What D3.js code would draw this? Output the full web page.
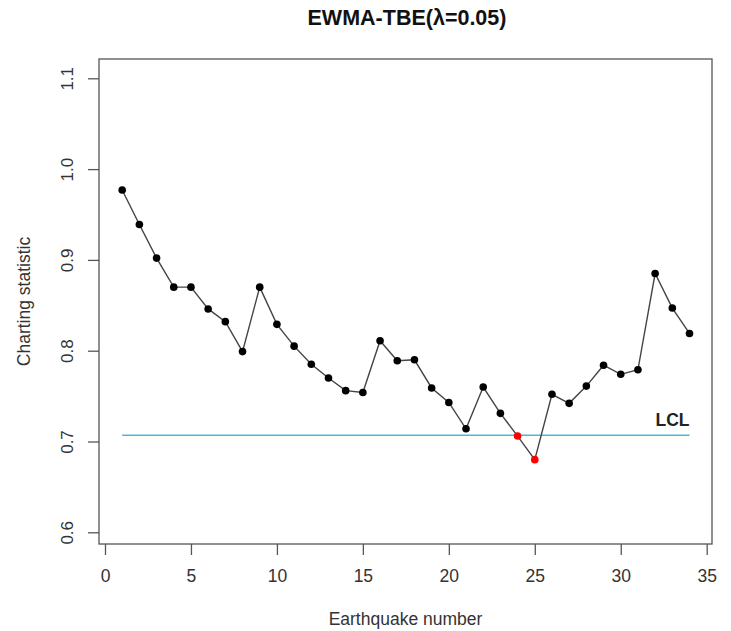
<!DOCTYPE html>
<html>
<head>
<meta charset="utf-8">
<script src="https://cdn.jsdelivr.net/npm/d3@7"></script>
<style>
  html, body { margin: 0; padding: 0; background: #fff; }
  svg { display: block; font-family: "Liberation Sans", Arial, sans-serif; }
</style>
</head>
<body>
<svg id="chart" width="731" height="631"></svg>
<script>
const earthquakes = d3.range(1, 35);
const statValues = [0.977, 0.939, 0.902, 0.870, 0.870, 0.846, 0.832, 0.799, 0.870, 0.829,
                    0.805, 0.785, 0.770, 0.756, 0.754, 0.811, 0.789, 0.790, 0.759, 0.743,
                    0.714, 0.760, 0.731, 0.706, 0.680, 0.752, 0.742, 0.761, 0.784, 0.774,
                    0.779, 0.885, 0.847, 0.819];
const lcl = 0.707;
const xTicks = [0, 5, 10, 15, 20, 25, 30, 35];
const yTicks = [0.6, 0.7, 0.8, 0.9, 1.0, 1.1];
const titleText = "EWMA-TBE(\u03bb=0.05)";
const xLabel = "Earthquake number";
const yLabel = "Charting statistic";

const data = earthquakes.map((e, i) => ({ x: e, y: statValues[i] }));

const svg = d3.select("#chart");
const box = { left: 99, right: 712, top: 59, bottom: 544 };
const x = d3.scaleLinear().domain([0, 35]).range([105, 706.7]);
const y = d3.scaleLinear().domain([0.6, 1.1]).range([532.3, 78.3]);

const axisColor = "#555";
const textColor = "#333";

// box
svg.append("rect")
  .attr("x", box.left).attr("y", box.top)
  .attr("width", box.right - box.left).attr("height", box.bottom - box.top)
  .attr("fill", "none").attr("stroke", axisColor).attr("stroke-width", 1.3);

// x axis
const gx = svg.append("g").attr("transform", `translate(0,${box.bottom})`)
  .call(d3.axisBottom(x).tickValues(xTicks).tickSize(11).tickPadding(15).tickFormat(d3.format("d")));
gx.select(".domain").remove();
gx.selectAll(".tick line").attr("stroke", axisColor).attr("stroke-width", 1.3);
gx.selectAll(".tick text").attr("fill", textColor).style("font-size", "17.5px").style("font-family", "Liberation Sans, Arial, sans-serif");

// y axis
const gy = svg.append("g").attr("transform", `translate(${box.left},0)`)
  .call(d3.axisLeft(y).tickValues(yTicks).tickSize(11).tickFormat(d3.format(".1f")));
gy.select(".domain").remove();
gy.selectAll(".tick line").attr("stroke", axisColor).attr("stroke-width", 1.3);
gy.selectAll(".tick text")
  .attr("fill", textColor)
  .attr("x", null).attr("dy", null)
  .attr("text-anchor", "middle")
  .attr("transform", "translate(-26,0) rotate(-90)")
  .style("font-size", "17px").style("font-family", "Liberation Sans, Arial, sans-serif");

// LCL line
svg.append("line")
  .attr("x1", x(1)).attr("x2", x(34))
  .attr("y1", y(lcl)).attr("y2", y(lcl))
  .attr("stroke", "#4cb6e0").attr("stroke-width", 1.5);
svg.append("text")
  .attr("x", x(34)).attr("y", y(lcl) - 9.5)
  .attr("text-anchor", "end")
  .attr("font-weight", "bold").attr("font-size", "17.5px")
  .attr("fill", "#222")
  .text("LCL");

// line
svg.append("path").datum(data)
  .attr("fill", "none").attr("stroke", "#444").attr("stroke-width", 1.4)
  .attr("d", d3.line().x(d => x(d.x)).y(d => y(d.y)));

// points
svg.selectAll("circle.pt").data(data).enter().append("circle")
  .attr("class", "pt")
  .attr("cx", d => x(d.x)).attr("cy", d => y(d.y)).attr("r", 3.8)
  .attr("fill", d => d.y < lcl ? "#ff0000" : "#000");

// title
svg.append("text")
  .attr("x", (box.left + box.right) / 2 + 1.5).attr("y", 25)
  .attr("text-anchor", "middle")
  .attr("font-weight", "bold").attr("font-size", "21.5px")
  .attr("fill", "#111")
  .text(titleText);

// axis labels
svg.append("text")
  .attr("x", (box.left + box.right) / 2).attr("y", 625)
  .attr("text-anchor", "middle").attr("font-size", "17.5px").attr("fill", textColor)
  .text(xLabel);
svg.append("text")
  .attr("transform", `translate(30,${(box.top + box.bottom) / 2}) rotate(-90)`)
  .attr("text-anchor", "middle").attr("font-size", "17.5px").attr("fill", textColor)
  .text(yLabel);
</script>
</body>
</html>
